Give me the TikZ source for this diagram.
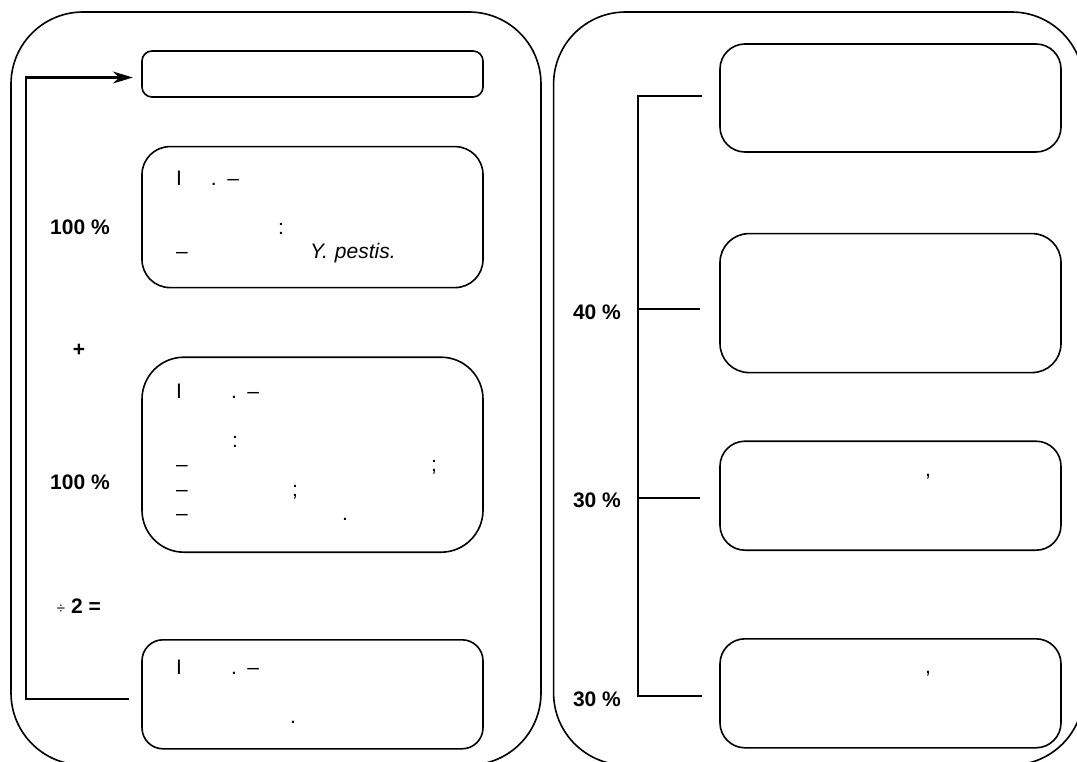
\documentclass[tikz,border=0pt]{standalone}
\usepackage{fontspec}
\setmainfont{Liberation Sans}
\usepackage{tikz}
\usetikzlibrary{arrows.meta,positioning,calc}

% place a piece of text at a fixed offset from the start of the line
\newcommand{\putat}[2]{\makebox[0pt][l]{\hspace*{#1}#2}}

\begin{document}
\begin{tikzpicture}[x=1pt, y=-1pt]
% STYLES
\tikzset{%
    panel/.style={%
    draw,
    rectangle,
    rounded corners=72pt,
    line width=1.6pt,
    minimum width=530pt,
    minimum height=753pt}
    }
\tikzset{%
    box/.style={%
    draw,
    rectangle,
    line width=1.6pt,
    inner xsep=34pt,
    inner ysep=0pt,
    text width=273pt,
    align=left,
    font=\fontsize{21}{24.5}\selectfont}
    }
\tikzset{%
    pct/.style={%
    inner sep=0pt,
    font=\fontsize{21}{24}\selectfont\bfseries}
    }
\tikzset{%
    link/.style={%
    draw,
    line width=2.1pt}
    }
\path[use as bounding box, clip] (0,0) rectangle (1077,762);

% Draw panels
\node [panel] (leftpanel) at (276,388.5) {};
\node [panel, right=11pt of leftpanel] (rightpanel) {};

% Draw left boxes
\node [box, minimum height=46pt, rounded corners=10pt] (b1) at (312.5,74) {};
\node [box, minimum height=141pt, rounded corners=28pt, below=48pt of b1] (b2)
    {\strut\putat{0pt}{I}\putat{35pt}{. –}\\
     \strut\\
     \strut\putat{102pt}{:}\\
     \strut\putat{0pt}{–}\putat{134pt}{\itshape Y. pestis.}};
\node [box, minimum height=195pt, rounded corners=42pt, below=68pt of b2] (b3)
    {\strut\putat{0pt}{I}\putat{55pt}{. –}\\
     \strut\\
     \strut\putat{56pt}{:}\\
     \strut\putat{0pt}{–}\putat{255pt}{;}\\
     \strut\putat{0pt}{–}\putat{116pt}{;}\\
     \strut\putat{0pt}{–}\putat{166pt}{.}};
\node [box, minimum height=109pt, rounded corners=21pt, below=86pt of b3] (b4)
    {\strut\putat{0pt}{I}\putat{55pt}{. –}\\
     \strut\\
     \strut\putat{114pt}{.}};

% Draw right boxes
\node [box, minimum height=108pt, rounded corners=25pt] (r1) at (890.5,98) {};
\node [box, minimum height=139pt, rounded corners=29pt, below=80pt of r1] (r2) {};
\node [box, minimum height=109pt, rounded corners=25pt, below=67pt of r2] (r3)
    {\strut\putat{171pt}{,}\\ \strut\\ \strut};
\node [box, minimum height=109pt, rounded corners=25pt, below=87pt of r3] (r4)
    {\strut\putat{171pt}{,}\\ \strut\\ \strut};

% Draw labels
\node [pct] (pcta) at (80,227) {100 \%};
\node [pct] (plus) at (79,350) {+};
\node [pct] (pctb) at (80,482) {100 \%};
\node [pct] (half) at (79,606) {{\fontsize{15}{18}\selectfont\mdseries ÷}\hspace{6pt}2 =};
\node [pct] (pctc) at (597,312) {40 \%};
\node [pct] (pctd) at (597,500) {30 \%};
\node [pct] (pcte) at (597,699) {30 \%};

% Draw the links
\draw [link, -{Stealth[length=20pt,width=12pt]}]
    ([shift={(-12,4.5)}]b4.west) -| ([shift={(-115.5,3.5)}]b1.west)
    -- ([shift={(-8.4,3.5)}]b1.west);

\coordinate (spine) at ([xshift=-81pt]r1.west);
\coordinate (t2) at ([shift={(-19,5.5)}]r2.west);
\coordinate (t3) at ([shift={(-19,2.7)}]r3.west);
\draw [link] ([shift={(-17,-2)}]r1.west) -| ([shift={(-81,2.7)}]r4.west)
    -- ([shift={(-17,2.7)}]r4.west);
\draw [link] (t2) -- (spine |- t2);
\draw [link] (t3) -- (spine |- t3);

\end{tikzpicture}
\end{document}
